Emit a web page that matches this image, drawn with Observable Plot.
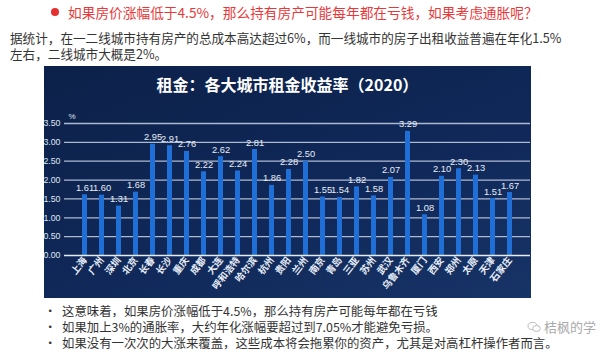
<!DOCTYPE html>
<html><head><meta charset="utf-8">
<script src="https://cdn.jsdelivr.net/npm/d3@7"></script>
<script src="https://cdn.jsdelivr.net/npm/@observablehq/plot@0.6"></script>
<style>
body{margin:0;width:600px;height:355px;background:#fff;font-family:"Noto Sans CJK SC","Noto Sans",sans-serif;position:relative;overflow:hidden}
.abs{position:absolute;white-space:nowrap}
#head{left:68px;top:3px;font-size:13.7px;line-height:18px;color:#e8393a}
#dot{left:51px;top:8px;width:8px;height:8px;border-radius:50%;background:#e5302f}
#p1{left:10px;top:30px;font-size:12.6px;color:#333;line-height:16px}
#chartbox{left:44px;top:66px;width:487px;height:232px;background:linear-gradient(160deg,#0c2149 0%,#10295a 60%,#173466 100%)}
#title{position:absolute;left:0;top:6px;width:487px;text-align:center;color:#fff;font-weight:bold;font-size:16px}
#plot{position:absolute;left:0;top:34px}
.bl{left:44px;font-size:12.4px;color:#333;line-height:16px}
.bl span{display:inline-block;width:18px}
#wm{left:527px;top:319px;font-size:13px;color:#aaa;line-height:16px}
</style></head><body>
<div id="dot" class="abs"></div>
<div id="head" class="abs">如果房价涨幅低于4.5%，那么持有房产可能每年都在亏钱，如果考虑通胀呢？</div>
<div id="p1" class="abs">据统计，在一二线城市持有房产的总成本高达超过6%，而一线城市的房子出租收益普遍在年化1.5%<br>左右，二线城市大概是2%。</div>
<div id="chartbox" class="abs"><div id="title">租金：各大城市租金收益率（2020）</div><div id="plot"></div></div>
<div class="abs bl" style="top:303px"><span>•</span>这意味着，如果房价涨幅低于4.5%，那么持有房产可能每年都在亏钱</div>
<div class="abs bl" style="top:319px"><span>•</span>如果加上3%的通胀率，大约年化涨幅要超过到7.05%才能避免亏损。</div>
<div class="abs bl" style="top:335px"><span>•</span>如果没有一次次的大涨来覆盖，这些成本将会拖累你的资产，尤其是对高杠杆操作者而言。</div>
<div id="wm" class="abs"><svg width="14" height="12" style="vertical-align:-1px"><ellipse cx="5.5" cy="5" rx="4.5" ry="3.6" fill="none" stroke="#bbb"/><ellipse cx="9.5" cy="7.5" rx="3.8" ry="3" fill="#fff" stroke="#bbb"/></svg> 桔枫的学</div>
<script>
const cities = ["上海","广州","深圳","北京","长春","长沙","重庆","成都","大连","呼和浩特","哈尔滨","杭州","贵阳","兰州","南京","青岛","三亚","苏州","武汉","乌鲁木齐","厦门","西安","郑州","太原","天津","石家庄"];
const yields = [1.61,1.60,1.31,1.68,2.95,2.91,2.76,2.22,2.62,2.24,2.81,1.86,2.28,2.50,1.55,1.54,1.82,1.58,2.07,3.29,1.08,2.10,2.30,2.13,1.51,1.67];
const yTicks = [0,0.5,1,1.5,2,2.5,3,3.5];
const unit = ["%"];
const data = cities.map((c,i)=>({city:c, v:yields[i]}));
const chart = Plot.plot({
  width:487, height:198,
  marginLeft:20, marginRight:1, marginTop:23, marginBottom:43,
  style:{background:"transparent", color:"#fff", fontFamily:"Liberation Sans, Arial, sans-serif", overflow:"visible"},
  x:{domain:cities, padding:0.72, align:0.5, label:null},
  y:{domain:[0,3.5], label:null},
  marks:[
    Plot.ruleY(yTicks.filter(d=>d>0), {stroke:"#c9d3e6", strokeWidth:1.3, strokeOpacity:0.85}),
    Plot.barY(data, {x:"city", y:"v", fill:"#1f6fd6"}),
    Plot.ruleY([0], {stroke:"#e6ecf6", strokeWidth:1.5}),
    Plot.text(data, {x:"city", y:"v", text:d=>d.v.toFixed(2), dy:-7, fill:"#e8eef8", fontSize:9.3, letterSpacing:-0.5}),
    Plot.axisY({ticks:yTicks, tickSize:0, tickPadding:4, tickFormat:d=>d.toFixed(2), fontSize:8.8, fill:"#dfe6f2", label:null}),
    Plot.axisX({tickSize:0, tickPadding:3, tickRotate:-52, fontSize:9.5, fontWeight:"bold", fill:"#e8eef8", fontFamily:"Noto Sans CJK SC", label:null}),
    Plot.text(unit, {frameAnchor:"top-left", dx:4, dy:-10, fontSize:8, fill:"#dfe6f2"})
  ]
});
document.getElementById("plot").appendChild(chart);
</script>
</body></html>
